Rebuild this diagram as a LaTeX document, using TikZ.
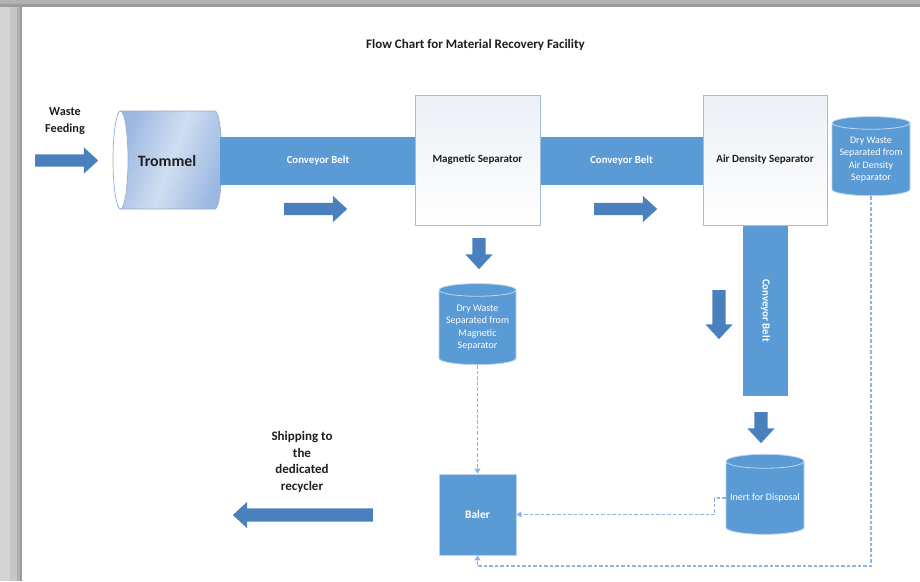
\documentclass[tikz,border=0pt]{standalone}
\usepackage{fontspec}
\setmainfont{Carlito}
\usetikzlibrary{shapes.geometric,shapes.arrows,arrows.meta,calc}
\definecolor{beltc}{RGB}{91,155,213}
\definecolor{arrowc}{RGB}{74,128,189}
\definecolor{dashc}{RGB}{141,180,226}
\definecolor{boxedge}{RGB}{160,188,222}
\definecolor{boxtop}{RGB}{236,240,246}
\definecolor{cyledge}{RGB}{190,212,236}
\definecolor{tromA}{RGB}{156,184,225}
\definecolor{tromB}{RGB}{208,222,241}
\definecolor{tromE}{RGB}{150,172,205}
\definecolor{txt}{RGB}{30,30,30}
\begin{document}
\begin{tikzpicture}[x=1pt,y=-1pt,
  beltbox/.style={rectangle, fill=beltc, draw=none, text=white, inner sep=0pt,
    font=\bfseries\fontsize{10.8}{12}\selectfont},
  sepbox/.style={rectangle, draw=boxedge, line width=1pt, top color=boxtop, bottom color=white,
    text=txt, font=\bfseries\fontsize{11}{13}\selectfont, minimum width=125pt, minimum height=130pt},
  drum/.style={cylinder, shape border rotate=90, aspect=0.2, draw=cyledge, line width=0.8pt,
    cylinder uses custom fill, cylinder body fill=beltc, cylinder end fill=beltc,
    text=white, align=center, inner sep=0pt, font=\fontsize{10}{12.5}\selectfont},
  blockarrow/.style={single arrow, fill=arrowc, draw=none, inner sep=0pt, anchor=tail,
    single arrow head extend=7pt, single arrow tip angle=85, single arrow head indent=0pt},
  harrow/.style={blockarrow, text height=6pt, text depth=6pt, text width=0pt},
  varrow/.style={blockarrow, shape border rotate=270, text width=13pt, text height=0pt, text depth=0pt},
  flow/.style={draw=dashc, line width=1.2pt, dash pattern=on 3.5pt off 2pt,
    -{Triangle[width=6pt,length=5pt]}},
  label/.style={text=txt, align=center}
]
\useasboundingbox (0,0) rectangle (920,581);
\fill[white] (0,0) rectangle (920,581);
% photo frame
\fill[color={rgb,255:red,212;green,212;blue,212}] (0,0) rectangle (10,581);
\fill[color={rgb,255:red,198;green,198;blue,198}] (10,0) rectangle (17,581);
\fill[color={rgb,255:red,178;green,178;blue,178}] (17,0) rectangle (20,581);
\fill[color={rgb,255:red,156;green,156;blue,156}] (20,0) rectangle (22,581);
\fill[color={rgb,255:red,178;green,178;blue,178}] (0,0) rectangle (920,4);
\fill[color={rgb,255:red,156;green,156;blue,156}] (0,4) rectangle (920,7);

% title
\node[label, font=\bfseries\fontsize{13}{15}\selectfont] (title) at (475.5,45) {Flow Chart for Material Recovery Facility};

% waste feeding
\node[label, font=\bfseries\fontsize{12.2}{17}\selectfont] (feed) at (65,121) {Waste\\Feeding};
\node[harrow, minimum height=63pt] (a0) at (35,160.5) {};

% trommel
\shade[left color=tromA, right color=tromA, middle color=tromB, shading angle=70, draw=tromE, line width=0.6pt]
  (120,111) -- (215,111) arc[start angle=90, end angle=-90, x radius=7pt, y radius=49pt] -- (120,209) -- cycle;
\draw[draw=tromE, line width=0.7pt, fill=white] (120.5,160) ellipse [x radius=7.5pt, y radius=49pt];

% belts
\node[beltbox, minimum width=196pt, minimum height=48pt] (b1) at (318,161) {Conveyor Belt};
\node[beltbox, minimum width=163pt, minimum height=48pt] (b2) at (621.5,161) {Conveyor Belt};
\node[beltbox, rotate=-90, minimum width=171pt, minimum height=45pt] (b3) at (765.5,310.5) {Conveyor Belt};

\node[text=txt, font=\bfseries\fontsize{15.8}{18}\selectfont] (trom) at (167,161) {Trommel};

% separators
\node[sepbox] (mag) at (477.5,160) {Magnetic Separator};
\node[sepbox, minimum width=124pt] (air) at (765,160) {Air Density Separator};

% arrows
\node[harrow, minimum height=63pt] (a1) at (284,209) {};
\node[harrow, minimum height=63pt] (a2) at (594,209) {};
\node[varrow, minimum height=31pt] (a3) at (479,238) {};
\node[varrow, minimum height=49pt] (a4) at (719,290) {};
\node[varrow, minimum height=31pt] (a5) at (761,412) {};
\node[harrow, minimum height=140pt, shape border rotate=180, text height=6.5pt, text depth=6.5pt, single arrow head extend=6.5pt] (a6) at (373,515) {};

% drums
\node[drum, minimum width=77pt, minimum height=81pt] (dwm) at (477.5,327.5) {Dry Waste\\Separated from\\Magnetic\\Separator};
\node[drum, minimum width=78pt, minimum height=79pt] (dwa) at (871,159.5) {Dry Waste\\Separated from\\Air Density\\Separator};
\node[drum, minimum width=78pt, minimum height=80pt] (inert) at (765,498) {Inert for Disposal};

% baler
\node[rectangle, fill=beltc, draw=cyledge, line width=0.8pt, minimum width=77pt, minimum height=81pt,
  text=white, font=\bfseries\fontsize{11.5}{13}\selectfont] (baler) at (477.5,514.5) {Baler};

% shipping
\node[label, font=\bfseries\fontsize{13}{16.7}\selectfont] (ship) at (302,462) {Shipping to\\the\\dedicated\\recycler};

% dashed flows
\coordinate (c1) at (872,566);
\draw[flow] (dwm.south) -- (baler.north);
\draw[flow] (inert.west) -- ++(-11,0) |- (baler.east);
\draw[flow] (dwa.south) -- (dwa.south |- c1) -| (baler.south);
\end{tikzpicture}
\end{document}
